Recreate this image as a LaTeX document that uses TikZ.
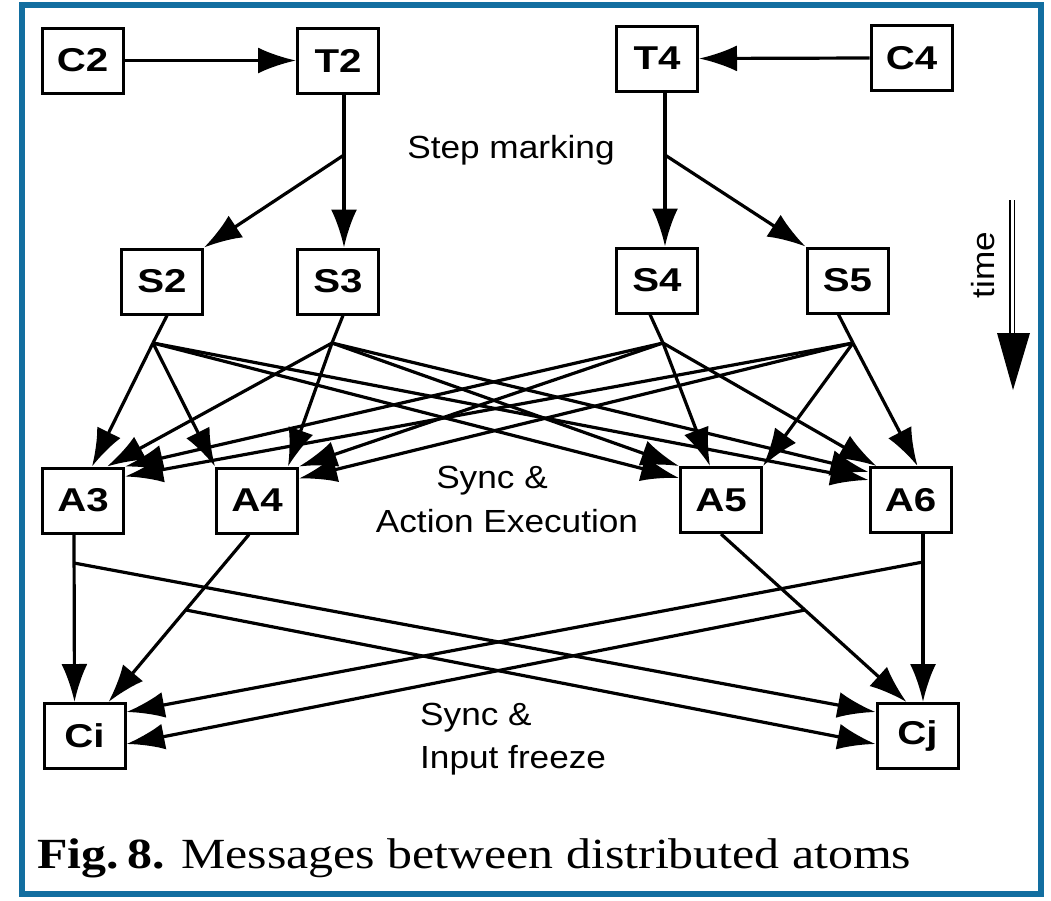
\documentclass[tikz,border=0pt]{standalone}
\usepackage{fontspec}
\setmainfont{Liberation Serif}
\setsansfont{Liberation Sans}
\usetikzlibrary{arrows.meta}
\definecolor{framebl}{RGB}{18,110,160}
\newcommand{\boxlabel}[1]{\scalebox{1.22}[1]{#1}}
\newcommand{\wlabel}[1]{\scalebox{1.1}[1]{#1}}

\begin{document}
\begin{tikzpicture}[x=1pt,y=-1pt,
  box/.style={draw, line width=3pt, minimum width=81pt, minimum height=65pt,
    inner sep=0pt, font=\fontsize{33}{33}\selectfont\sffamily\bfseries},
  wire/.style={line width=3.2pt},
  msg/.style={line width=3.2pt, -{Latex[length=38pt,width=26pt]}},
  note/.style={font=\fontsize{32}{38}\selectfont\sffamily, inner sep=0pt}
]
\useasboundingbox (0,0) rectangle (1051,900);
\draw[framebl, line width=6pt] (21.5,4.5) rectangle (1041,893.5);

% processes
\node[box] (C2) at (82.5,60.5) {\boxlabel{C2}};
\node[box] (T2) at (338,60.5)  {\boxlabel{T2}};
\node[box] (T4) at (657,58.5)  {\boxlabel{T4}};
\node[box] (C4) at (911.5,58)  {\boxlabel{C4}};

\node[box] (S2) at (162,281.5) {\boxlabel{S2}};
\node[box] (S3) at (338,281.5) {\boxlabel{S3}};
\node[box] (S4) at (657,280.5) {\boxlabel{S4}};
\node[box] (S5) at (847.5,280.5) {\boxlabel{S5}};

\node[box] (A3) at (83,500.5)  {\boxlabel{A3}};
\node[box] (A4) at (257,500.5) {\boxlabel{A4}};
\node[box] (A5) at (721,500)   {\boxlabel{A5}};
\node[box] (A6) at (910.5,500) {\boxlabel{A6}};

\node[box] (Ci) at (84.5,736)  {\boxlabel{Ci}};
\node[box] (Cj) at (917.5,736) {\boxlabel{Cj}};

% labels
\node[note, anchor=base] (lstep) at (511,158) {\wlabel{Step marking}};
\node[note, anchor=base] (lsync1) at (492,488) {\wlabel{Sync \&}};
\node[note, anchor=base] (lact) at (507,532) {\wlabel{Action Execution}};
\node[note, anchor=base west] (lsync2) at (420,725) {\wlabel{Sync \&}};
\node[note, anchor=base west] (linp) at (420,768) {\wlabel{Input freeze}};
\node[note, rotate=90] (ltime) at (983,265) {\wlabel{time}};

% caption
\node[anchor=base west, inner sep=0pt, font=\fontsize{43}{50}\selectfont] (cap) at (37,868)
  {\scalebox{1.16}[1]{\textbf{Fig.\,8.} Messages between distributed atoms}};

% time arrow
\coordinate (ttop) at (1012,200);
\coordinate (tbot) at (1012,336);
\draw[double, double distance=3pt, line width=1.6pt] (ttop) -- (tbot);
\fill (997,333) -- (1030,333) -- (1013,390) -- cycle;

% initiation
\draw[msg] (C2.east) -- (T2.west);
\draw[msg] (C4.west) -- (T4.east);

% step marking
\coordinate (t2f) at (344,155);
\coordinate (t4f) at (665,155);
\draw[msg] ([xshift=6pt]T2.south) -- ([xshift=6pt]S3.north);
\draw[msg] (t2f) -- (S2.north east);
\draw[msg] ([xshift=8pt]T4.south) -- ([xshift=8pt]S4.north);
\draw[msg] (t4f) -- (S5.north west);

% synchronisation towards the atoms
\coordinate (s2f) at (153,343);
\coordinate (s3f) at (332,343);
\coordinate (s4f) at (663,343);
\coordinate (s5f) at (853,343);
\draw[wire] ([xshift=5pt]S2.south) -- (s2f);
\draw[wire] ([xshift=5pt]S3.south) -- (s3f);
\draw[wire] ([xshift=-7pt]S4.south) -- (s4f);
\draw[wire] ([xshift=-9pt]S5.south) -- (s5f);

\draw[msg] (s2f) -- ([xshift=9pt]A3.north);
\draw[msg] (s2f) -- (A4.north west);
\draw[msg] (s2f) -- ([yshift=-12pt]A5.north west);
\draw[msg] (s2f) -- ([yshift=-14pt]A6.north west);

\draw[msg] (s3f) -- ([xshift=24pt]A3.north);
\draw[msg] (s3f) -- ([xshift=31pt]A4.north);
\draw[msg] (s3f) -- (A5.north west);
\draw[msg] (s3f) -- ([yshift=-6pt]A6.north west);

\draw[msg] (s4f) -- (A3.north east);
\draw[msg] (s4f) -- (A4.north east);
\draw[msg] (s4f) -- ([xshift=-11pt]A5.north);
\draw[msg] (s4f) -- ([xshift=8pt]A6.north west);

\draw[msg] (s5f) -- ([yshift=-10pt]A3.north east);
\draw[msg] (s5f) -- ([yshift=-12pt]A4.north east);
\draw[msg] (s5f) -- (A5.north east);
\draw[msg] (s5f) -- ([xshift=7pt]A6.north);

% input freeze towards the components
\coordinate (a3f) at (74,563);
\coordinate (a4f) at (186,610);
\coordinate (a5f) at (805,610);
\coordinate (a6f) at (923,562);
\draw[msg] ([xshift=-9pt]A3.south) -- ([xshift=-10pt]Ci.north);
\draw[msg] ([xshift=-8pt]A4.south) -- ([xshift=24pt]Ci.north);
\draw[msg] (A5.south) -- ([xshift=-11pt]Cj.north);
\draw[msg] ([xshift=12.5pt]A6.south) -- ([xshift=5.5pt]Cj.north);

\draw[msg] (a3f) -- ([yshift=-10pt]Cj.north west);
\draw[msg] (a4f) -- ([yshift=-42pt]Cj.north west);
\draw[msg] (a5f) -- ([yshift=-42pt]Ci.north east);
\draw[msg] (a6f) -- ([yshift=-10pt]Ci.north east);
\end{tikzpicture}
\end{document}
